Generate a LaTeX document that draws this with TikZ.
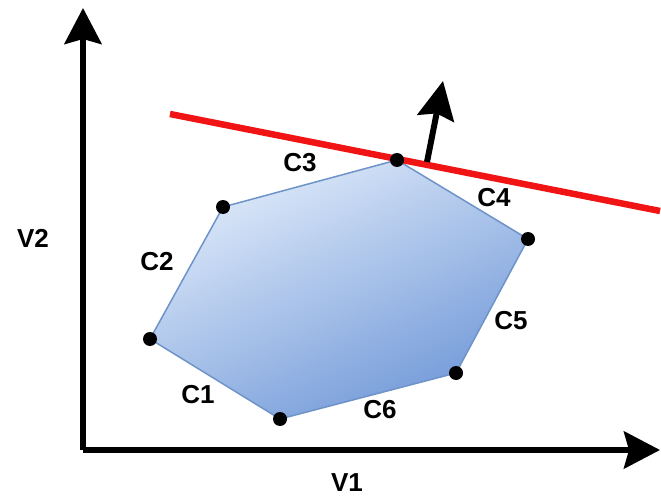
\documentclass[tikz,border=0pt]{standalone}
\usepackage{fontspec}
\setmainfont{Liberation Sans}
\usetikzlibrary{arrows.meta}
\definecolor{polytop}{HTML}{E0EBFA}
\definecolor{polybot}{HTML}{7098D8}
\definecolor{polyedge}{HTML}{6E93C8}
\definecolor{redline}{HTML}{F01414}
\tikzset{
  axis/.style={line width=6pt, -{Stealth[length=36pt,width=37pt,inset=5pt]}},
  vertexdot/.style={circle, fill=black, inner sep=0pt, minimum size=14pt},
  lbl/.style={font=\fontsize{26}{26}\selectfont\bfseries, inner sep=0pt},
}
\begin{document}
\begin{tikzpicture}[x=1pt,y=-1pt]
\useasboundingbox (0,0) rectangle (661,497);
% axes
\coordinate (o) at (83,450);
\coordinate (ytip) at (83,8);
\coordinate (xtip) at (660,450);
\draw[axis] (o) -- (ytip);
\draw[axis] (o) -- (xtip);
% polygon
\coordinate (p1) at (150,339);
\coordinate (p2) at (223,207);
\coordinate (p3) at (397,160);
\coordinate (p4) at (528,239);
\coordinate (p5) at (456,373);
\coordinate (p6) at (280,419);
\shade[top color=polytop, bottom color=polybot, shading angle=25]
  (p1) -- (p2) -- (p3) -- (p4) -- (p5) -- (p6) -- cycle;
\draw[polyedge, line width=1.5pt] (p1) -- (p2) -- (p3) -- (p4) -- (p5) -- (p6) -- cycle;
% red line
\coordinate (r1) at (170,114);
\coordinate (r2) at (660,211);
\draw[redline, line width=6.5pt] (r1) -- (r2);
% normal arrow
\coordinate (nb) at (427,162);
\coordinate (nt) at (443,81);
\draw[line width=6pt, -{Stealth[length=38pt,width=37pt,inset=5pt]}] (nb) -- (nt);
% dots
\foreach \p in {p1,p2,p3,p4,p5,p6} \node[vertexdot] at (\p) {};
% labels
\node[lbl] (c1) at (198,395) {C1};
\node[lbl] (c2) at (157,262) {C2};
\node[lbl] (c3) at (300,163) {C3};
\node[lbl] (c4) at (494,198) {C4};
\node[lbl] (c5) at (511,321) {C5};
\node[lbl] (c6) at (380,410) {C6};
\node[lbl] (v1) at (347,483) {V1};
\node[lbl] (v2) at (33,238) {V2};
\end{tikzpicture}
\end{document}
